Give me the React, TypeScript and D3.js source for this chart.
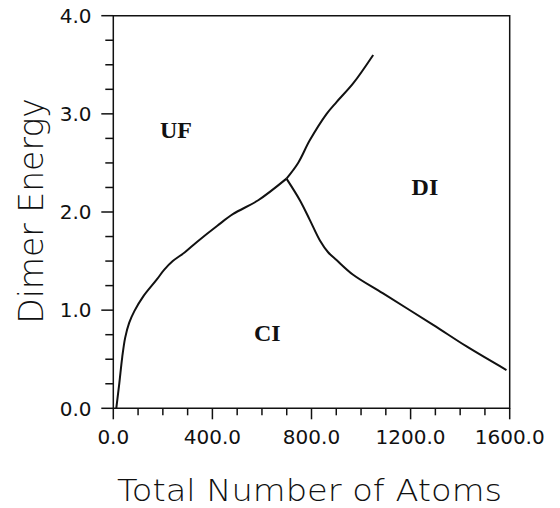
import * as d3 from "d3";
import React from "react";

// phase boundaries (atoms, dimer energy)
const lowerBoundary: [number, number][] = [
  [12, 0], [24, 0.25], [36, 0.52], [48, 0.72], [64, 0.87], [85, 0.99],
  [121, 1.14], [175, 1.31], [205, 1.41], [240, 1.5], [289, 1.59],
  [340, 1.7], [420, 1.86], [484, 1.98], [585, 2.12], [699, 2.34],
];
const upperBoundary: [number, number][] = [
  [699, 2.34], [746, 2.5], [793, 2.73], [861, 3.0], [901, 3.12],
  [968, 3.31], [1049, 3.6],
];
const diBoundary: [number, number][] = [
  [699, 2.34], [753, 2.12], [793, 1.92], [834, 1.71], [867, 1.59],
  [901, 1.51], [968, 1.36], [1089, 1.17], [1291, 0.85], [1426, 0.63],
  [1587, 0.39],
];

const regions = ["UF", "DI", "CI"];
const regionX = [188, 1204, 568];
const regionY = [2.75, 2.17, 0.69];

const xMajor = [0, 400, 800, 1200, 1600];
const yMajor = [0, 1, 2, 3, 4];

const W = 560;
const H = 508;
const left = 113.3;
const right = 509.7;
const top = 15.7;
const bottom = 408.3;

export default function App() {
  const x = d3.scaleLinear().domain([0, 1600]).range([left, right]);
  const y = d3.scaleLinear().domain([0, 4]).range([bottom, top]);
  const line = d3
    .line<[number, number]>()
    .x((d) => x(d[0]))
    .y((d) => y(d[1]))
    .curve(d3.curveCatmullRom.alpha(0.5));

  const xMinor = d3.range(0, 1601, 100);
  const yMinor = d3.range(0, 4.01, 0.25);
  const sans = "'DejaVu Sans', sans-serif";

  return (
    <svg
      width={W}
      height={H}
      style={{ position: "absolute", left: 0, top: 0, background: "#fff" }}
    >
      {/* frame */}
      <path
        d={`M${left},${top}H${right}V${bottom}H${left}Z`}
        fill="none"
        stroke="#111"
        strokeWidth={1.5}
      />
      {/* x ticks */}
      {xMinor.map((v) => (
        <line
          key={"xt" + v}
          x1={x(v)}
          x2={x(v)}
          y1={bottom}
          y2={bottom + (v % 400 === 0 ? 11 : 7)}
          stroke="#111"
          strokeWidth={1.5}
        />
      ))}
      {/* y ticks */}
      {yMinor.map((v) => (
        <line
          key={"yt" + v}
          x1={left}
          x2={left - (v % 1 === 0 ? 12 : 8)}
          y1={y(v)}
          y2={y(v)}
          stroke="#111"
          strokeWidth={1.5}
        />
      ))}
      {xMajor.map((v) => (
        <text
          key={"xl" + v}
          x={x(v)}
          y={443.5}
          textAnchor="middle"
          fontFamily={sans}
          fontSize={20}
          fill="#111"
        >
          {v.toFixed(1)}
        </text>
      ))}
      {yMajor.map((v) => (
        <text
          key={"yl" + v}
          x={91.5}
          y={y(v)}
          dy="0.36em"
          textAnchor="end"
          fontFamily={sans}
          fontSize={20}
          fill="#111"
        >
          {v.toFixed(1)}
        </text>
      ))}
      <text
        x={117}
        y={501}
        textLength={385}
        lengthAdjust="spacingAndGlyphs"
        fontFamily={sans}
        fontSize={31}
        fontWeight={300}
        fill="#111"
      >
        Total Number of Atoms
      </text>
      <text
        transform={`translate(42.5,${(95 + 327) / 2}) rotate(-90)`}
        textAnchor="middle"
        fontFamily={sans}
        fontSize={33}
        fontWeight={300}
        fill="#111"
      >
        Dimer Energy
      </text>

      {/* boundaries */}
      {[lowerBoundary, upperBoundary, diBoundary].map((d, i) => (
        <path
          key={"b" + i}
          d={line(d) || ""}
          fill="none"
          stroke="#111"
          strokeWidth={2}
        />
      ))}
      {regions.map((r, i) => (
        <text
          key={r}
          x={x(regionX[i])}
          y={y(regionY[i])}
          fontFamily="'Liberation Serif', serif"
          fontWeight="bold"
          fontSize={24}
          fill="#111"
        >
          {r}
        </text>
      ))}
    </svg>
  );
}
